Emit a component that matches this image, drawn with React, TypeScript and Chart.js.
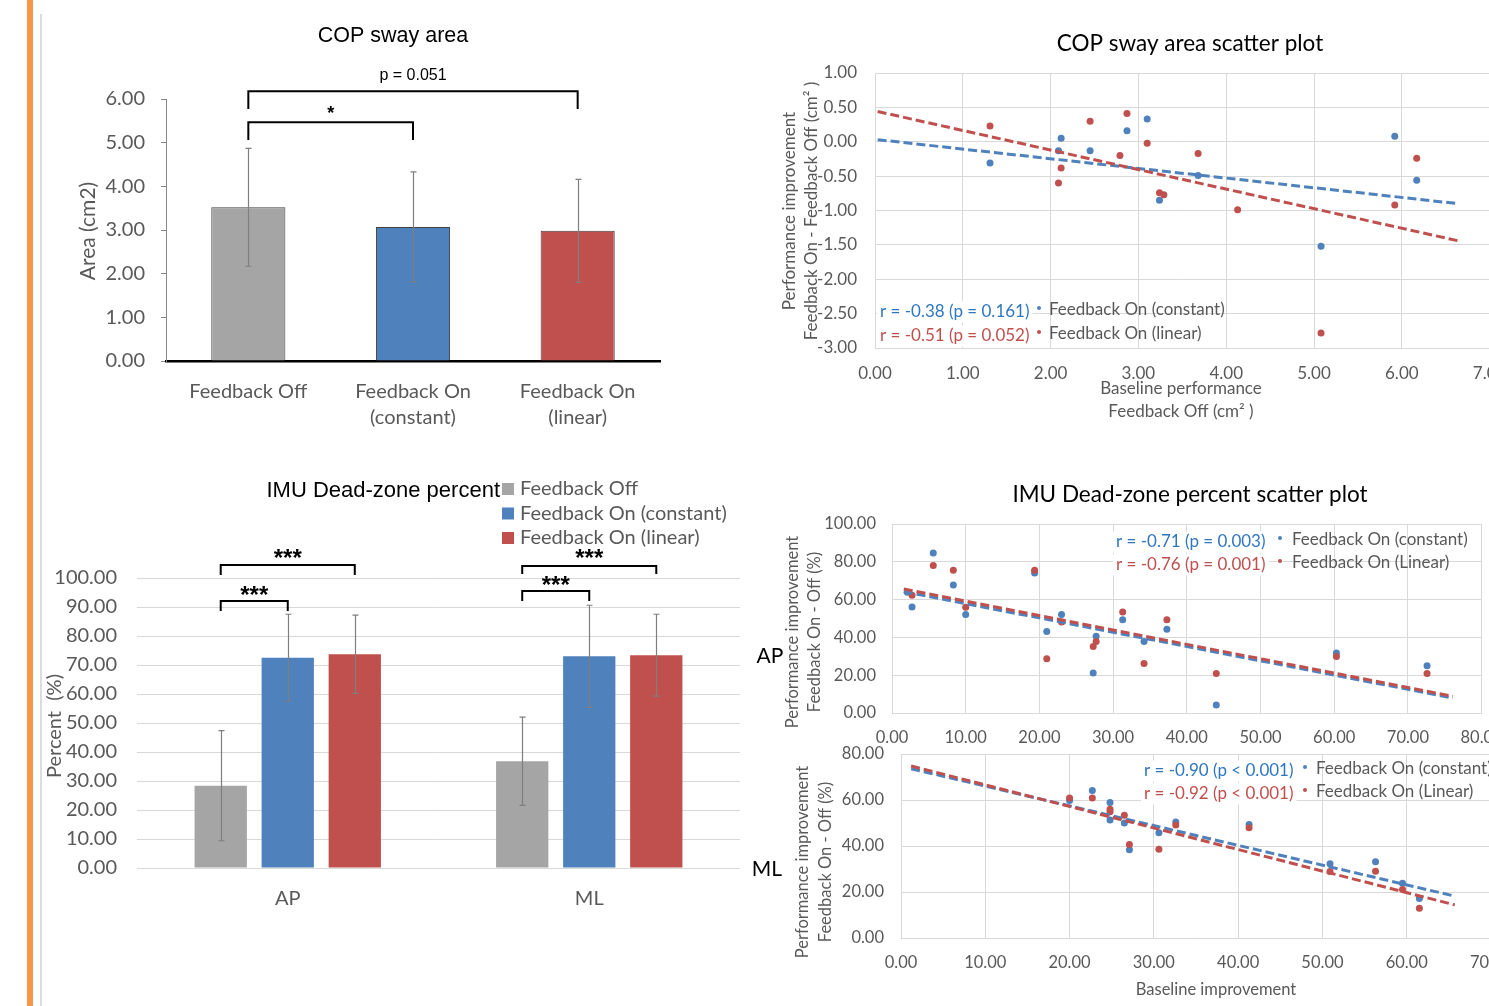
import React, { useEffect, useRef } from "react";
import { Chart, registerables } from "chart.js";

Chart.register(...registerables);

// ---------------- colours & fonts ----------------
const GREY = "#a5a5a5";
const BLUE = "#4f81bd";
const RED = "#c0504d";
const R_BLUE = "#2f77c0";
const AXIS_TEXT = "#595959";
const GRID = "#d9d9d9";
const SANS = "Lato, 'Open Sans', sans-serif";
const TITLE_SANS = "'Liberation Sans', Arial, sans-serif";

// ---------------- data: COP sway area (bar) ----------------
const copCategories = ["Feedback Off", ["Feedback On", "(constant)"], ["Feedback On", "(linear)"]];
const copMeans = [3.52, 3.07, 2.98];
const copSD = [1.35, 1.26, 1.18];
const copYTicks = [0, 1, 2, 3, 4, 5, 6];

// ---------------- data: COP sway area scatter ----------------
const swayBaseConst = [1.31, 2.12, 2.09, 2.45, 2.87, 3.1, 3.24, 3.68, 5.08, 5.92, 6.17];
const swayImpConst = [-0.31, 0.05, -0.13, -0.13, 0.16, 0.33, -0.85, -0.49, -1.52, 0.08, -0.56];
const swayBaseLin = [1.31, 2.09, 2.12, 2.45, 2.79, 2.87, 3.1, 3.24, 3.29, 3.68, 4.13, 5.08, 5.92, 6.17];
const swayImpLin = [0.23, -0.6, -0.38, 0.3, -0.2, 0.41, -0.02, -0.74, -0.77, -0.17, -0.99, -2.78, -0.92, -0.24];
const swayTrendX = [0.03, 6.64];
const swayTrendConst = [0.03, -0.9];
const swayTrendLin = [0.44, -1.44];
const swayXTicks = [0, 1, 2, 3, 4, 5, 6, 7];
const swayYTicks = [-3, -2.5, -2, -1.5, -1, -0.5, 0, 0.5, 1];

// ---------------- data: IMU dead-zone percent (bar) ----------------
const imuCategories = ["AP", "ML"];
const imuSeries = ["Feedback Off", "Feedback On (constant)", "Feedback On (linear)"];
const imuOff = [28.4, 36.8];
const imuOffSD = [19.0, 15.2];
const imuConst = [72.5, 73.0];
const imuConstSD = [15.0, 17.6];
const imuLin = [73.7, 73.4];
const imuLinSD = [13.5, 14.1];
const imuYTicks = [0, 10, 20, 30, 40, 50, 60, 70, 80, 90, 100];

// ---------------- data: IMU scatter AP ----------------
const apBaseConst = [2.07, 2.72, 5.6, 8.32, 10.0, 19.35, 21.0, 23.0, 27.3, 27.7, 31.3, 34.2, 37.3, 44.0, 60.3, 72.6];
const apImpConst = [63.9, 56.1, 84.6, 67.7, 52.1, 74.1, 43.1, 52.1, 21.1, 40.6, 49.4, 37.8, 44.3, 4.2, 31.7, 25.0];
const apBaseLin = [2.72, 5.6, 8.32, 10.0, 19.35, 21.0, 23.0, 27.3, 27.7, 31.3, 34.2, 37.3, 44.0, 60.3, 72.6];
const apImpLin = [62.3, 78.1, 75.5, 55.9, 75.5, 28.7, 48.2, 35.2, 37.8, 53.5, 26.2, 49.4, 20.9, 29.9, 20.9];
const apTrendX = [1.6, 76.1];
const apTrendConst = [64.2, 7.9];
const apTrendLin = [65.6, 8.8];
const apXTicks = [0, 10, 20, 30, 40, 50, 60, 70, 80];
const apYTicks = [0, 20, 40, 60, 80, 100];

// ---------------- data: IMU scatter ML ----------------
const mlBase = [20.0, 22.7, 24.8, 24.8, 26.5, 27.1, 30.6, 32.6, 41.3, 50.9, 56.3, 59.5, 61.5];
const mlImpConst = [59.8, 64.1, 58.9, 51.3, 50.0, 38.4, 45.8, 50.4, 49.4, 32.3, 33.2, 23.8, 17.2];
const mlImpLin = [60.9, 60.9, 56.0, 54.9, 53.4, 40.7, 38.6, 49.1, 47.9, 28.9, 29.0, 21.1, 12.9];
const mlTrendX = [1.2, 65.7];
const mlTrendConst = [73.6, 18.2];
const mlTrendLin = [74.8, 14.4];
const mlXTicks = [0, 10, 20, 30, 40, 50, 60, 70];
const mlYTicks = [0, 20, 40, 60, 80];

// ---------------- layout helpers ----------------
type Rect = { left: number; top: number; width: number; height: number };
type Area = { left: number; right: number; top: number; bottom: number };

function fixedLayout(rect: Rect, area: Area) {
  return {
    padding: { left: 0, top: area.top - rect.top, right: rect.left + rect.width - area.right, bottom: 0 },
    yWidth: area.left - rect.left,
    xHeight: rect.top + rect.height - area.bottom,
  };
}

const zip = (xs: number[], ys: number[]) => xs.map((x, i) => ({ x, y: ys[i] }));
const fmt2 = (v: any) => Number(v).toFixed(2);

// ---------------- plugins ----------------
type TextItem = {
  text: string; x: number; y: number; size: number; color?: string; family?: string;
  weight?: string; align?: CanvasTextAlign; rot?: number;
};

function textPlugin(rect: Rect, items: TextItem[]) {
  return {
    id: "texts",
    afterDraw(chart: any) {
      const ctx = chart.ctx;
      for (const it of items) {
        ctx.save();
        ctx.font = `${it.weight ?? "normal"} ${it.size}px ${it.family ?? SANS}`;
        ctx.fillStyle = it.color ?? AXIS_TEXT;
        ctx.textAlign = it.align ?? "center";
        ctx.textBaseline = "middle";
        ctx.translate(it.x - rect.left, it.y - rect.top);
        if (it.rot) ctx.rotate((it.rot * Math.PI) / 180);
        ctx.fillText(it.text, 0, 0);
        ctx.restore();
      }
    },
  };
}

const errorBarPlugin = {
  id: "errorBars",
  afterDatasetsDraw(chart: any) {
    const ctx = chart.ctx;
    const y = chart.scales.y;
    chart.data.datasets.forEach((ds: any, di: number) => {
      if (!ds.errors) return;
      const meta = chart.getDatasetMeta(di);
      meta.data.forEach((bar: any, i: number) => {
        const v = ds.data[i];
        const e = ds.errors[i];
        const x = Math.round(bar.x) + 0.5;
        const yt = y.getPixelForValue(v + e);
        const yb = y.getPixelForValue(v - e);
        ctx.save();
        ctx.strokeStyle = "#7f7f7f";
        ctx.lineWidth = 1.2;
        ctx.beginPath();
        ctx.moveTo(x, yt); ctx.lineTo(x, yb);
        ctx.moveTo(x - 3, yt); ctx.lineTo(x + 3, yt);
        ctx.moveTo(x - 3, yb); ctx.lineTo(x + 3, yb);
        ctx.stroke();
        ctx.restore();
      });
    });
  },
};

type Bracket = {
  from: [number, number]; to: [number, number]; level: number; foot: number;
  label: string; labelLevel: number; font: string;
};

function bracketPlugin(brackets: Bracket[]) {
  return {
    id: "brackets",
    afterDraw(chart: any) {
      const ctx = chart.ctx;
      const y = chart.scales.y;
      for (const b of brackets) {
        const x1 = chart.getDatasetMeta(b.from[0]).data[b.from[1]].x;
        const x2 = chart.getDatasetMeta(b.to[0]).data[b.to[1]].x;
        const yl = y.getPixelForValue(b.level);
        const yf = y.getPixelForValue(b.foot);
        ctx.save();
        ctx.strokeStyle = "#000";
        ctx.lineWidth = 2;
        ctx.beginPath();
        ctx.moveTo(x1, yf); ctx.lineTo(x1, yl); ctx.lineTo(x2, yl); ctx.lineTo(x2, yf);
        ctx.stroke();
        ctx.font = b.font;
        ctx.fillStyle = "#000";
        ctx.textAlign = "center";
        ctx.textBaseline = "middle";
        ctx.fillText(b.label, (x1 + x2) / 2, y.getPixelForValue(b.labelLevel));
        ctx.restore();
      }
    },
  };
}

type CorrRow = { r: string; rColor: string; label: string; dot: string; x: number; y: number; dotX: number; labelX: number };

function corrLegendPlugin(rect: Rect, rows: CorrRow[], size: number) {
  return {
    id: "corrLegend",
    afterDraw(chart: any) {
      const ctx = chart.ctx;
      for (const row of rows) {
        ctx.save();
        ctx.font = `${size}px ${SANS}`;
        ctx.textBaseline = "middle";
        ctx.textAlign = "left";
        const w = ctx.measureText(row.r).width;
        const x = row.x - rect.left;
        const y = row.y - rect.top;
        ctx.fillStyle = "#ffffff";
        ctx.fillRect(x - 3, y - size * 0.62, w + 6, size * 1.24);
        ctx.fillStyle = row.rColor;
        ctx.fillText(row.r, x, y);
        ctx.fillStyle = row.dot;
        ctx.beginPath();
        ctx.arc(row.dotX - rect.left, y - 4, 2, 0, Math.PI * 2);
        ctx.fill();
        ctx.fillStyle = AXIS_TEXT;
        ctx.fillText(row.label, row.labelX - rect.left, y - 2);
        ctx.restore();
      }
    },
  };
}

function barLegendPlugin(rect: Rect, x: number, y0: number, step: number) {
  return {
    id: "barLegend",
    afterDraw(chart: any) {
      const ctx = chart.ctx;
      chart.data.datasets.forEach((ds: any, i: number) => {
        const cy = y0 + i * step - rect.top;
        ctx.save();
        ctx.fillStyle = ds.backgroundColor;
        ctx.fillRect(x - rect.left, cy - 6, 12, 12);
        ctx.fillStyle = AXIS_TEXT;
        ctx.font = `20px ${SANS}`;
        ctx.textAlign = "left";
        ctx.textBaseline = "middle";
        ctx.fillText(ds.label, x - rect.left + 18, cy);
        ctx.restore();
      });
    },
  };
}

// ---------------- chart builders ----------------
const rectA: Rect = { left: 40, top: 0, width: 700, height: 450 };
const areaA: Area = { left: 166, right: 660, top: 99, bottom: 361 };

function buildA(canvas: HTMLCanvasElement) {
  const L = fixedLayout(rectA, areaA);
  return new Chart(canvas, {
    type: "bar",
    data: {
      labels: copCategories as any,
      datasets: [
        {
          label: "COP sway area",
          data: copMeans,
          errors: copSD,
          backgroundColor: [GREY, BLUE, RED],
          borderColor: "#404040",
          borderWidth: 1,
          barPercentage: 0.45,
          categoryPercentage: 1,
        } as any,
      ],
    },
    options: {
      responsive: false,
      animation: false,
      devicePixelRatio: 1,
      layout: { padding: L.padding },
      plugins: { legend: { display: false }, tooltip: { enabled: false } },
      scales: {
        x: {
          grid: { display: false },
          border: { color: "#000", width: 2.5 },
          ticks: { color: AXIS_TEXT, font: { family: SANS, size: 20, lineHeight: 1.3 }, padding: 10, maxRotation: 0, autoSkip: false },
          afterFit: (s: any) => { s.height = L.xHeight; },
        },
        y: {
          min: 0,
          max: 6,
          afterBuildTicks: (s: any) => { s.ticks = copYTicks.map((v) => ({ value: v })); },
          ticks: { callback: fmt2, color: AXIS_TEXT, font: { family: SANS, size: 20 }, padding: 16 },
          grid: { drawOnChartArea: false, tickLength: 5, color: "#868686" },
          border: { color: "#868686", width: 1 },
          afterFit: (s: any) => { s.width = L.yWidth; },
        },
      },
    } as any,
    plugins: [
      errorBarPlugin,
      bracketPlugin([
        { from: [0, 0], to: [0, 1], level: 5.47, foot: 5.06, label: "*", labelLevel: 5.66, font: `bold 18px ${TITLE_SANS}` },
        { from: [0, 0], to: [0, 2], level: 6.18, foot: 5.77, label: "p = 0.051", labelLevel: 6.53, font: `16px ${TITLE_SANS}` },
      ]),
      textPlugin(rectA, [
        { text: "COP sway area", x: 393, y: 36, size: 21.5, family: TITLE_SANS, color: "#000" },
        { text: "Area (cm2)", x: 88, y: 231, size: 21, rot: -90 },
      ]),
    ],
  });
}

const rectC: Rect = { left: 40, top: 455, width: 710, height: 460 };
const areaC: Area = { left: 137, right: 740, top: 578, bottom: 868 };

function buildC(canvas: HTMLCanvasElement) {
  const L = fixedLayout(rectC, areaC);
  const common = { barPercentage: 0.78, categoryPercentage: 0.667 };
  return new Chart(canvas, {
    type: "bar",
    data: {
      labels: imuCategories,
      datasets: [
        { label: imuSeries[0], data: imuOff, errors: imuOffSD, backgroundColor: GREY, ...common } as any,
        { label: imuSeries[1], data: imuConst, errors: imuConstSD, backgroundColor: BLUE, ...common } as any,
        { label: imuSeries[2], data: imuLin, errors: imuLinSD, backgroundColor: RED, ...common } as any,
      ],
    },
    options: {
      responsive: false,
      animation: false,
      devicePixelRatio: 1,
      layout: { padding: L.padding },
      plugins: { legend: { display: false }, tooltip: { enabled: false } },
      scales: {
        x: {
          grid: { display: false },
          border: { display: false },
          ticks: { color: AXIS_TEXT, font: { family: SANS, size: 20 }, padding: 11 },
          afterFit: (s: any) => { s.height = L.xHeight; },
        },
        y: {
          min: 0,
          max: 100,
          afterBuildTicks: (s: any) => { s.ticks = imuYTicks.map((v) => ({ value: v })); },
          ticks: { callback: fmt2, color: AXIS_TEXT, font: { family: SANS, size: 20 }, padding: 20 },
          grid: { color: GRID, drawTicks: false },
          border: { display: false },
          afterFit: (s: any) => { s.width = L.yWidth; },
        },
      },
    } as any,
    plugins: [
      errorBarPlugin,
      bracketPlugin([
        { from: [0, 0], to: [1, 0], level: 92.1, foot: 88.6, label: "***", labelLevel: 93.6, font: `bold 24px ${TITLE_SANS}` },
        { from: [0, 0], to: [2, 0], level: 104.5, foot: 101.0, label: "***", labelLevel: 106.4, font: `bold 24px ${TITLE_SANS}` },
        { from: [0, 1], to: [1, 1], level: 95.5, foot: 92.1, label: "***", labelLevel: 97.0, font: `bold 24px ${TITLE_SANS}` },
        { from: [0, 1], to: [2, 1], level: 104.1, foot: 101.4, label: "***", labelLevel: 106.4, font: `bold 24px ${TITLE_SANS}` },
      ]),
      barLegendPlugin(rectC, 502, 489, 24.5),
      textPlugin(rectC, [
        { text: "IMU Dead-zone percent", x: 500, y: 491, size: 22, family: TITLE_SANS, color: "#000", align: "right" },
        { text: "Percent  (%)", x: 55, y: 726, size: 20, rot: -90 },
      ]),
    ],
  });
}

function scatterChart(
  canvas: HTMLCanvasElement,
  rect: Rect,
  area: Area,
  cfg: {
    xTicks: number[]; yTicks: number[]; tickSize: number; yPad: number; xPad: number;
    constPts: { x: number; y: number }[]; linPts: { x: number; y: number }[];
    constTrend: { x: number; y: number }[]; linTrend: { x: number; y: number }[];
    plugins: any[];
  }
) {
  const L = fixedLayout(rect, area);
  const pt = { pointRadius: 3.5, pointBorderWidth: 0, showLine: false };
  const tr = { showLine: true, pointRadius: 0, borderWidth: 3, borderDash: [9, 4], fill: false };
  return new Chart(canvas, {
    type: "scatter",
    data: {
      datasets: [
        { label: "Feedback On (constant)", data: cfg.constPts, backgroundColor: BLUE, borderColor: BLUE, order: 3, ...pt } as any,
        { label: "Feedback On (linear)", data: cfg.linPts, backgroundColor: RED, borderColor: RED, order: 2, ...pt } as any,
        { label: "Trend (constant)", data: cfg.constTrend, borderColor: BLUE, backgroundColor: BLUE, order: 1, ...tr } as any,
        { label: "Trend (linear)", data: cfg.linTrend, borderColor: RED, backgroundColor: RED, order: 0, ...tr } as any,
      ],
    },
    options: {
      responsive: false,
      animation: false,
      devicePixelRatio: 1,
      layout: { padding: L.padding },
      plugins: { legend: { display: false }, tooltip: { enabled: false } },
      scales: {
        x: {
          type: "linear",
          min: cfg.xTicks[0],
          max: cfg.xTicks[cfg.xTicks.length - 1],
          afterBuildTicks: (s: any) => { s.ticks = cfg.xTicks.map((v) => ({ value: v })); },
          ticks: { callback: fmt2, color: AXIS_TEXT, font: { family: SANS, size: cfg.tickSize }, padding: cfg.xPad, maxRotation: 0, autoSkip: false },
          grid: { color: GRID, drawTicks: false },
          border: { color: GRID },
          afterFit: (s: any) => { s.height = L.xHeight; },
        },
        y: {
          type: "linear",
          min: cfg.yTicks[0],
          max: cfg.yTicks[cfg.yTicks.length - 1],
          afterBuildTicks: (s: any) => { s.ticks = cfg.yTicks.map((v) => ({ value: v })); },
          ticks: { callback: fmt2, color: AXIS_TEXT, font: { family: SANS, size: cfg.tickSize }, padding: cfg.yPad, autoSkip: false },
          grid: { color: GRID, drawTicks: false },
          border: { color: GRID },
          afterFit: (s: any) => { s.width = L.yWidth; },
        },
      },
    } as any,
    plugins: cfg.plugins,
  });
}

const rectB: Rect = { left: 740, top: 0, width: 820, height: 440 };
const areaB: Area = { left: 875, right: 1489.6, top: 73, bottom: 348 };

function buildB(canvas: HTMLCanvasElement) {
  return scatterChart(canvas, rectB, areaB, {
    xTicks: swayXTicks, yTicks: swayYTicks, tickSize: 17, yPad: 18, xPad: 15,
    constPts: zip(swayBaseConst, swayImpConst),
    linPts: zip(swayBaseLin, swayImpLin),
    constTrend: zip(swayTrendX, swayTrendConst),
    linTrend: zip(swayTrendX, swayTrendLin),
    plugins: [
      corrLegendPlugin(rectB, [
        { r: "r = -0.38 (p = 0.161)", rColor: R_BLUE, label: "Feedback On (constant)", dot: BLUE, x: 880, y: 312, dotX: 1039, labelX: 1049 },
        { r: "r = -0.51 (p = 0.052)", rColor: RED, label: "Feedback On (linear)", dot: RED, x: 880, y: 336, dotX: 1039, labelX: 1049 },
      ], 17),
      textPlugin(rectB, [
        { text: "COP sway area scatter plot", x: 1190, y: 44, size: 22.5, color: "#000" },
        { text: "Performance improvement", x: 790, y: 211, size: 17, rot: -90 },
        { text: "Feedback On - Feedback Off (cm² )", x: 812, y: 211, size: 17, rot: -90 },
        { text: "Baseline performance", x: 1181, y: 389, size: 17 },
        { text: "Feedback Off (cm² )", x: 1181, y: 412, size: 17 },
      ]),
    ],
  });
}

const rectD: Rect = { left: 740, top: 470, width: 820, height: 280 };
const areaD: Area = { left: 892, right: 1481.6, top: 524, bottom: 713 };

function buildD(canvas: HTMLCanvasElement) {
  return scatterChart(canvas, rectD, areaD, {
    xTicks: apXTicks, yTicks: apYTicks, tickSize: 16.5, yPad: 16, xPad: 15,
    constPts: zip(apBaseConst, apImpConst),
    linPts: zip(apBaseLin, apImpLin),
    constTrend: zip(apTrendX, apTrendConst),
    linTrend: zip(apTrendX, apTrendLin),
    plugins: [
      corrLegendPlugin(rectD, [
        { r: "r = -0.71 (p = 0.003)", rColor: R_BLUE, label: "Feedback On (constant)", dot: BLUE, x: 1116, y: 542, dotX: 1280, labelX: 1292 },
        { r: "r = -0.76 (p = 0.001)", rColor: RED, label: "Feedback On (Linear)", dot: RED, x: 1116, y: 565, dotX: 1280, labelX: 1292 },
      ], 17),
      textPlugin(rectD, [
        { text: "IMU Dead-zone percent scatter plot", x: 1190, y: 495, size: 22.5, color: "#000" },
        { text: "Performance improvement", x: 793, y: 632, size: 16.5, rot: -90 },
        { text: "Feedback On - Off (%)", x: 815, y: 632, size: 16.5, rot: -90 },
        { text: "AP", x: 770, y: 656, size: 21, color: "#000" },
      ]),
    ],
  });
}

const rectE: Rect = { left: 740, top: 715, width: 830, height: 291 };
const areaE: Area = { left: 901, right: 1491, top: 754, bottom: 938 };

function buildE(canvas: HTMLCanvasElement) {
  return scatterChart(canvas, rectE, areaE, {
    xTicks: mlXTicks, yTicks: mlYTicks, tickSize: 16.5, yPad: 17, xPad: 15,
    constPts: zip(mlBase, mlImpConst),
    linPts: zip(mlBase, mlImpLin),
    constTrend: zip(mlTrendX, mlTrendConst),
    linTrend: zip(mlTrendX, mlTrendLin),
    plugins: [
      corrLegendPlugin(rectE, [
        { r: "r = -0.90 (p < 0.001)", rColor: R_BLUE, label: "Feedback On (constant)", dot: BLUE, x: 1144, y: 771, dotX: 1305, labelX: 1316 },
        { r: "r = -0.92 (p < 0.001)", rColor: RED, label: "Feedback On (Linear)", dot: RED, x: 1144, y: 794, dotX: 1305, labelX: 1316 },
      ], 17),
      textPlugin(rectE, [
        { text: "Performance improvement", x: 803, y: 862, size: 16.5, rot: -90 },
        { text: "Feedback On - Off (%)", x: 826, y: 862, size: 16.5, rot: -90 },
        { text: "ML", x: 767, y: 869, size: 21, color: "#000" },
        { text: "Baseline improvement", x: 1216, y: 990, size: 16.5 },
      ]),
    ],
  });
}

// ---------------- components ----------------
function ChartBox({ rect, build }: { rect: Rect; build: (c: HTMLCanvasElement) => Chart }) {
  const ref = useRef<HTMLCanvasElement>(null);
  useEffect(() => {
    const chart = build(ref.current as HTMLCanvasElement);
    return () => chart.destroy();
  }, []);
  return (
    <canvas
      ref={ref}
      width={rect.width}
      height={rect.height}
      style={{ position: "absolute", left: rect.left, top: rect.top, width: rect.width, height: rect.height }}
    />
  );
}

export default function App() {
  return (
    <div
      style={{
        position: "fixed",
        left: 0,
        top: 0,
        width: 1489,
        height: 1006,
        overflow: "hidden",
        background: "#ffffff",
      }}
    >
      <div style={{ position: "absolute", left: 27, top: 0, width: 6, height: 1006, background: "#f79646" }} />
      <div style={{ position: "absolute", left: 40, top: 14, width: 2, height: 992, background: "#dcdcdc" }} />
      <ChartBox rect={rectA} build={buildA} />
      <ChartBox rect={rectC} build={buildC} />
      <ChartBox rect={rectB} build={buildB} />
      <ChartBox rect={rectD} build={buildD} />
      <ChartBox rect={rectE} build={buildE} />
    </div>
  );
}
